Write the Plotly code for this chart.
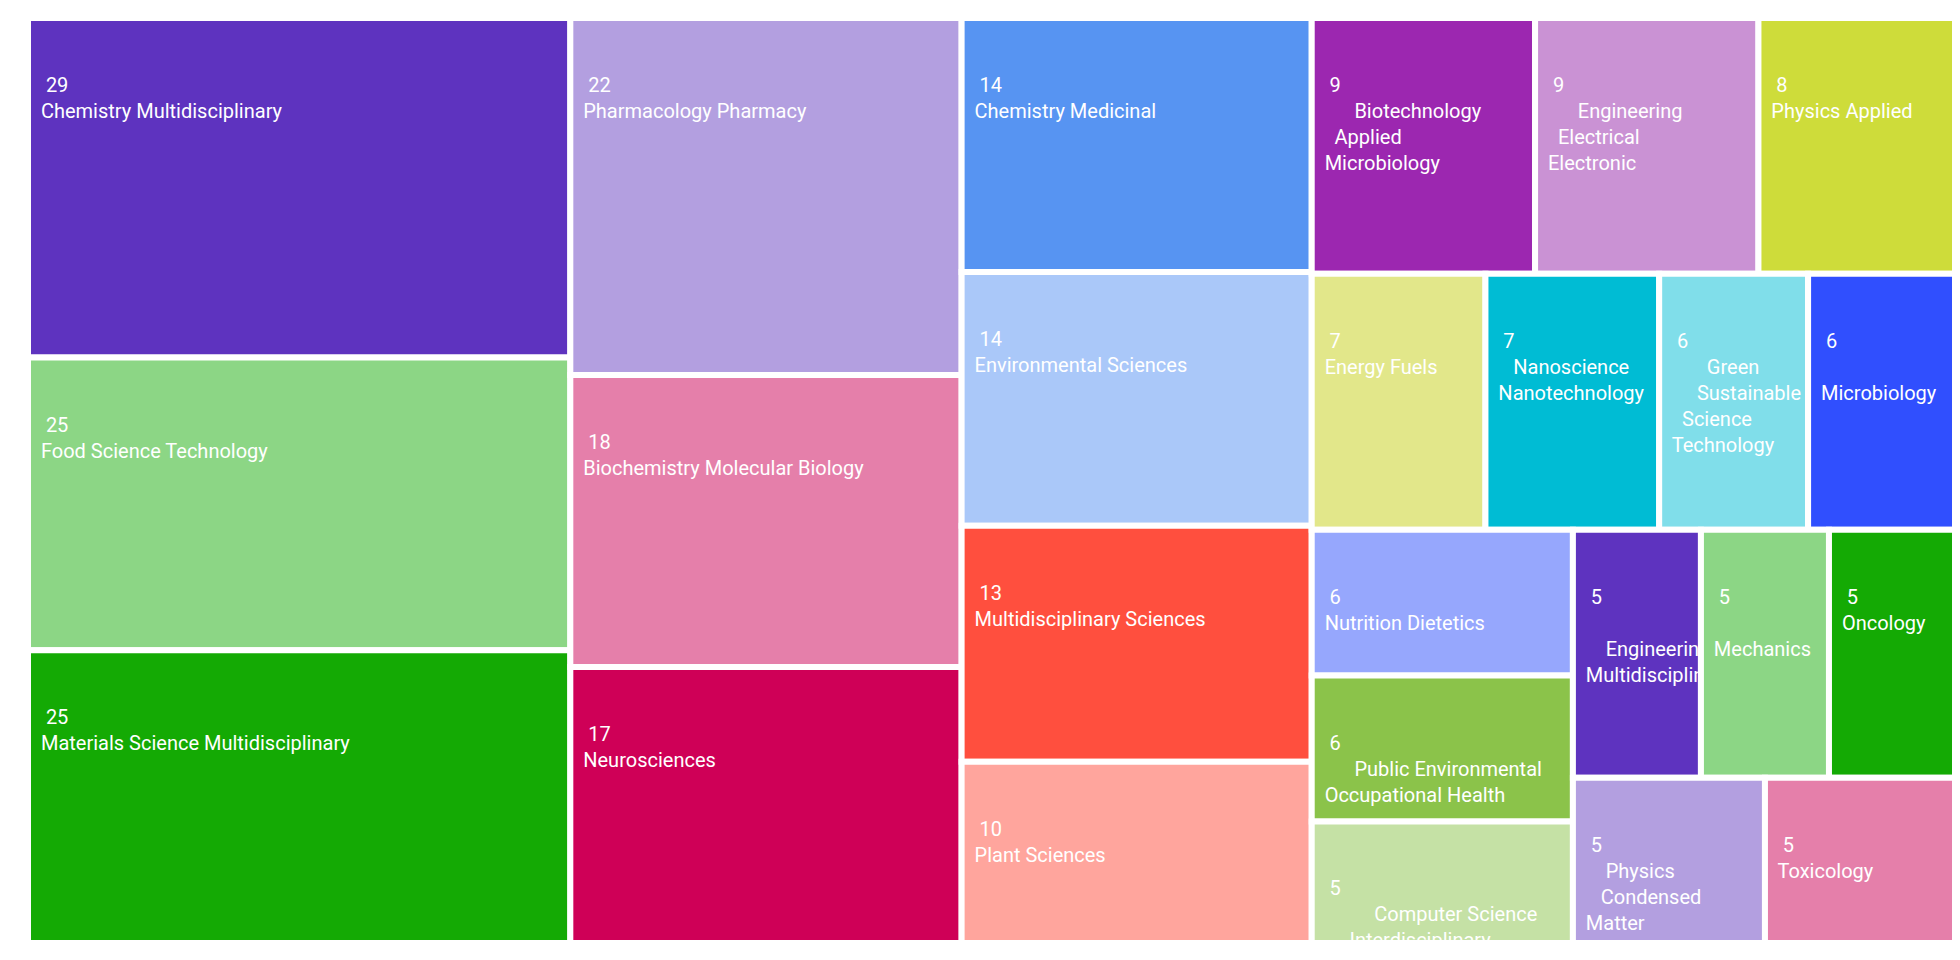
import plotly.graph_objects as go

categories = [
    "Chemistry Multidisciplinary", "Food Science Technology", "Materials Science Multidisciplinary",
    "Pharmacology Pharmacy", "Biochemistry Molecular Biology", "Neurosciences",
    "Chemistry Medicinal", "Environmental Sciences", "Multidisciplinary Sciences", "Plant Sciences",
    "Biotechnology Applied Microbiology", "Engineering Electrical Electronic", "Physics Applied",
    "Energy Fuels", "Nanoscience Nanotechnology", "Green Sustainable Science Technology", "Microbiology",
    "Nutrition Dietetics", "Public Environmental Occupational Health",
    "Computer Science Interdisciplinary Applications",
    "Engineering Multidisciplinary", "Mechanics", "Oncology",
    "Physics Condensed Matter", "Toxicology",
]
counts = [29, 25, 25, 22, 18, 17, 14, 14, 13, 10, 9, 9, 8, 7, 7, 6, 6, 6, 6, 5, 5, 5, 5, 5, 5]

# wrapped label lines as shown in the tiles
label_lines = [
    ["Chemistry Multidisciplinary"], ["Food Science Technology"], ["Materials Science Multidisciplinary"],
    ["Pharmacology Pharmacy"], ["Biochemistry Molecular Biology"], ["Neurosciences"],
    ["Chemistry Medicinal"], ["Environmental Sciences"], ["Multidisciplinary Sciences"], ["Plant Sciences"],
    ["      Biotechnology", "  Applied", "Microbiology"],
    ["      Engineering", "  Electrical", "Electronic"],
    ["Physics Applied"],
    ["Energy Fuels"], ["   Nanoscience", "Nanotechnology"],
    ["       Green", "     Sustainable", "  Science", "Technology"],
    ["", "Microbiology"],
    ["Nutrition Dietetics"], ["      Public Environmental", "Occupational Health"],
    ["          Computer Science", "     Interdisciplinary", "Applications"],
    ["", "    Engineering", "Multidisciplinary"], ["", "Mechanics"], ["Oncology"],
    ["    Physics", "   Condensed", "Matter"], ["Toxicology"],
]

palette = ["#5E33BF", "#8CD685", "#14AA04", "#B39FE0", "#E57FAA", "#CF0057", "#5794F2",
           "#AAC8F9", "#FF4F3E", "#FFA59D", "#9C27B0", "#CA92D4", "#CEDC3A", "#E2E78A",
           "#00BCD4", "#80DEEA", "#304FFE", "#96A7FD", "#8BC34A", "#C5E1A5"]
colors = [palette[i % len(palette)] for i in range(len(categories))]

texts = ["<br> <br> <br>   " + str(v) + "<br>" + "<br>".join("  " + s for s in l)
         for v, l in zip(counts, label_lines)]

fig = go.Figure(go.Treemap(
    labels=categories,
    parents=[""] * len(categories),
    values=counts,
    customdata=texts,
    texttemplate="%{customdata}",
    textposition="top left",
    textfont=dict(family="Roboto", size=20, color="white"),
    marker=dict(colors=colors, line=dict(color="white", width=6),
                pad=dict(t=0, l=0, r=0, b=0)),
    tiling=dict(squarifyratio=1.618034, pad=0),
    pathbar=dict(visible=False),
    sort=True,
    hovertemplate="%{label}: %{value}<extra></extra>",
))
fig.update_layout(
    width=1960, height=960,
    margin=dict(l=20, r=11, t=10, b=25),
    paper_bgcolor="white",
    uniformtext=dict(minsize=20, mode="show"),
    font=dict(family="Roboto"),
)
fig.write_html("out.html")
